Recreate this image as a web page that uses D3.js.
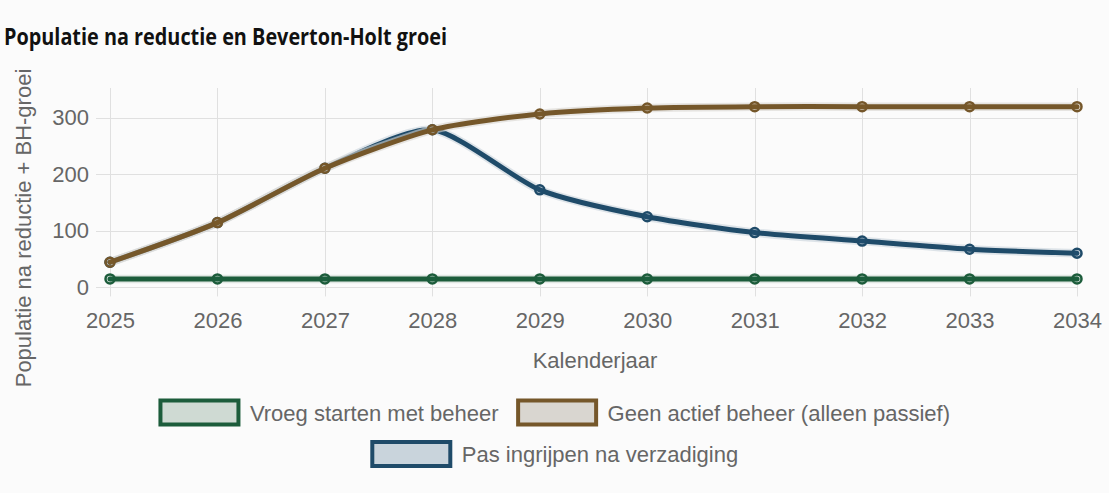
<!DOCTYPE html>
<html>
<head>
<meta charset="utf-8">
<script src="https://cdn.jsdelivr.net/npm/d3@7"></script>
<style>
  html, body { margin: 0; padding: 0; background: #fbfbfb; }
  svg { display: block; }
  text { font-family: "Liberation Sans", Arial, sans-serif; }
</style>
</head>
<body>
<svg id="chart" width="1109" height="493"></svg>
<script>
// Calendar years on the x axis
const years = [2025, 2026, 2027, 2028, 2029, 2030, 2031, 2032, 2033, 2034];

// Population after reduction + Beverton-Holt growth, per scenario
const vroegStarten = [15, 15, 15, 15, 15, 15, 15, 15, 15, 15];
const geenBeheer   = [44.5, 114.7, 211, 279, 307, 317.5, 320, 320, 320, 320];
const pasIngrijpen = [44.5, 114.7, 211, 279, 172.7, 125, 97, 82, 67.5, 60.5];

const yTicks = [0, 100, 200, 300];

const seriesNames = [
  "Vroeg starten met beheer",
  "Geen actief beheer (alleen passief)",
  "Pas ingrijpen na verzadiging"
];

const titleText = "Populatie na reductie en Beverton-Holt groei";
const xTitle = "Kalenderjaar";
const yTitle = "Populatie na reductie + BH-groei";

const series = [
  { name: seriesNames[0], values: vroegStarten, stroke: "#1c5c3b", fill: "rgba(30,110,70,0.18)", box: "#cfdad3" },
  { name: seriesNames[1], values: geenBeheer,   stroke: "#75572a", fill: "rgba(140,100,40,0.18)", box: "#d9d6d0" },
  { name: seriesNames[2], values: pasIngrijpen, stroke: "#1f4b69", fill: "rgba(40,90,130,0.18)", box: "#c9d4dc" }
];

const svg = d3.select("#chart");
const W = 1109;

const x = d3.scaleLinear().domain([years[0], years[years.length - 1]]).range([110, 1077]);
const y = d3.scaleLinear().domain([0, 353]).range([287.4, 88]);

// Title
svg.append("text")
  .attr("x", 4).attr("y", 45)
  .style("font-family", "'Open Sans', 'Noto Sans', sans-serif")
  .style("font-weight", 700)
  .style("font-size", "23.5px")
  .attr("textLength", 443)
  .attr("lengthAdjust", "spacingAndGlyphs")
  .attr("fill", "#111")
  .text(titleText);

// Gridlines
const grid = svg.append("g").attr("stroke", "#e0e0e0").attr("stroke-width", 1);
grid.selectAll("line.h").data(yTicks).join("line")
  .attr("x1", 96).attr("x2", x.range()[1])
  .attr("y1", d => Math.round(y(d)) + 0.5).attr("y2", d => Math.round(y(d)) + 0.5);
grid.selectAll("line.v").data(years).join("line")
  .attr("x1", d => Math.round(x(d)) + 0.5).attr("x2", d => Math.round(x(d)) + 0.5)
  .attr("y1", y.range()[1]).attr("y2", y(0) + 9);

// Axes (labels only, gridlines drawn above)
const yAxis = d3.axisLeft(y).tickValues(yTicks).tickSize(0).tickPadding(0);
svg.append("g").attr("transform", "translate(89,0)").call(yAxis)
  .call(g => g.select(".domain").remove())
  .call(g => g.selectAll("text").attr("font-size", 22).attr("fill", "#666"));

const xAxis = d3.axisBottom(x).tickValues(years).tickFormat(d3.format("d")).tickSize(0).tickPadding(0);
svg.append("g").attr("transform", "translate(0,312)").call(xAxis)
  .call(g => g.select(".domain").remove())
  .call(g => g.selectAll("text").attr("font-size", 22).attr("fill", "#666"));

// Axis titles
svg.append("text")
  .attr("x", 595).attr("y", 368)
  .attr("text-anchor", "middle")
  .attr("font-size", 22).attr("fill", "#666")
  .text(xTitle);

svg.append("text")
  .attr("transform", "translate(31,228) rotate(-90)")
  .attr("text-anchor", "middle")
  .attr("font-size", 22).attr("fill", "#666")
  .text(yTitle);

// Lines and points; first series ends up on top
const line = d3.line()
  .x((d, i) => x(years[i]))
  .y(d => y(d))
  .curve(d3.curveCardinal.tension(0.3));

const drawOrder = [2, 1, 0];
drawOrder.forEach(k => {
  const s = series[k];
  const g = svg.append("g");
  g.append("path")
    .attr("d", line(s.values))
    .attr("fill", "none")
    .attr("stroke", s.box)
    .attr("stroke-width", 8.5)
    .attr("stroke-opacity", 0.6)
    .attr("stroke-linejoin", "round");
  g.append("path")
    .attr("d", line(s.values))
    .attr("fill", "none")
    .attr("stroke", s.stroke)
    .attr("stroke-width", 5)
    .attr("stroke-linejoin", "round")
    .attr("stroke-linecap", "round");
  g.selectAll("circle").data(s.values).join("circle")
    .attr("cx", (d, i) => x(years[i]))
    .attr("cy", d => y(d))
    .attr("r", 4.5)
    .attr("fill", s.fill)
    .attr("stroke", s.stroke)
    .attr("stroke-width", 2.5);
});

// Legend, centred rows
const legendRows = [[0, 1], [2]];
const rowY = [412.5, 454];
const boxW = 78, boxH = 24, boxGap = 10, itemGap = 18;
const measure = svg.append("text").attr("font-size", 22).attr("visibility", "hidden");
function textWidth(t) { measure.text(t); return measure.node().getComputedTextLength(); }

legendRows.forEach((row, r) => {
  const widths = row.map(k => boxW + 3 + boxGap + textWidth(series[k].name));
  const total = d3.sum(widths) + itemGap * (row.length - 1);
  let cx = W / 2 - total / 2;
  row.forEach((k, j) => {
    const s = series[k];
    svg.append("rect")
      .attr("x", cx + 1.5).attr("y", rowY[r] - boxH / 2)
      .attr("width", boxW).attr("height", boxH)
      .attr("fill", s.box)
      .attr("stroke", s.stroke)
      .attr("stroke-width", 4);
    svg.append("text")
      .attr("x", cx + boxW + 3 + boxGap).attr("y", rowY[r] + 8)
      .attr("font-size", 22).attr("fill", "#666")
      .text(s.name);
    cx += widths[j] + itemGap;
  });
});
measure.remove();
</script>
</body>
</html>
